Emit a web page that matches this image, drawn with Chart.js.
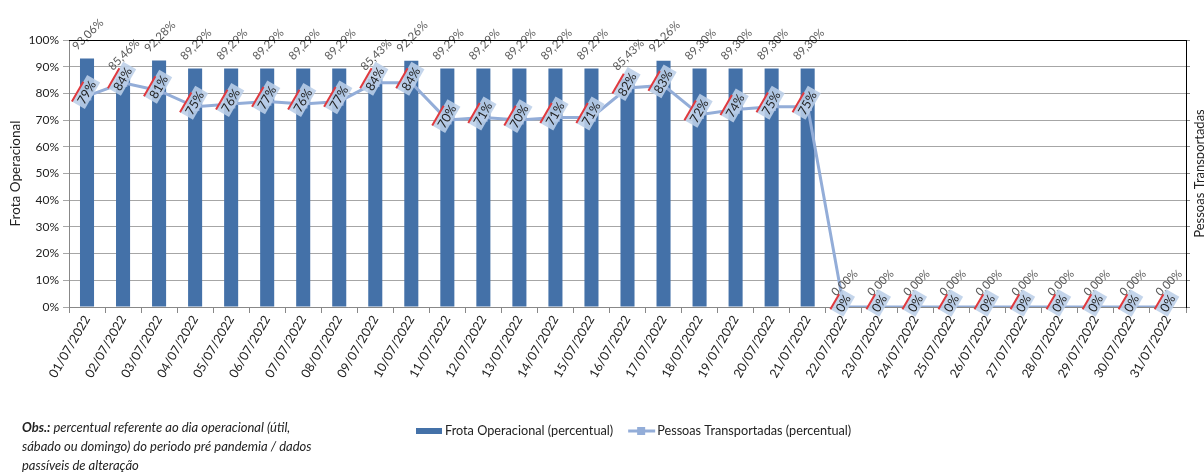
<!DOCTYPE html>
<html>
<head>
<meta charset="utf-8">
<script src="https://cdn.jsdelivr.net/npm/chart.js@4.4.1/dist/chart.umd.min.js"></script>
<style>
  body { margin: 0; background: #fff; }
  #wrap { position: relative; width: 1204px; height: 473px; }
  #obs {
    position: absolute; left: 22px; top: 418px; width: 340px;
    font-family: Lato, sans-serif; font-style: italic; font-size: 13px;
    line-height: 19px; color: #222; white-space: nowrap;
  }
</style>
</head>
<body>
<div id="wrap">
  <canvas id="myChart" width="1204" height="473"></canvas>
  <div id="obs"><b>Obs.:</b> percentual referente ao dia operacional (útil,<br>sábado ou domingo) do periodo pré pandemia / dados<br>passíveis de alteração</div>
</div>
<script>
// dias do mes
var dias = ['01/07/2022','02/07/2022','03/07/2022','04/07/2022','05/07/2022','06/07/2022','07/07/2022','08/07/2022',
  '09/07/2022','10/07/2022','11/07/2022','12/07/2022','13/07/2022','14/07/2022','15/07/2022','16/07/2022',
  '17/07/2022','18/07/2022','19/07/2022','20/07/2022','21/07/2022','22/07/2022','23/07/2022','24/07/2022',
  '25/07/2022','26/07/2022','27/07/2022','28/07/2022','29/07/2022','30/07/2022','31/07/2022'];

// frota operacional (%)
var frota = [93.06, 85.46, 92.28, 89.29, 89.29, 89.29, 89.29, 89.29, 85.43, 92.26, 89.29, 89.29, 89.29, 89.29, 89.29,
  85.43, 92.26, 89.30, 89.30, 89.30, 89.30, 0, 0, 0, 0, 0, 0, 0, 0, 0, 0];

// pessoas transportadas (%)
var pessoas = [79, 84, 81, 75, 76, 77, 76, 77, 84, 84, 70, 71, 70, 71, 71, 82, 83, 72, 74, 75, 75,
  0, 0, 0, 0, 0, 0, 0, 0, 0, 0];

var yTicks = [0, 10, 20, 30, 40, 50, 60, 70, 80, 90, 100];

var FONT = 'Lato, sans-serif';
var corBarra = '#4471A8';
var corLinha = '#93ADD8';

var rotulos = {
  id: 'rotulos',
  afterDatasetsDraw: function (chart) {
    var ctx = chart.ctx;
    // rotulos das barras
    var mb = chart.getDatasetMeta(0);
    ctx.save();
    ctx.font = '11.5px ' + FONT;
    ctx.fillStyle = '#595959';
    ctx.textAlign = 'center';
    ctx.textBaseline = 'middle';
    mb.data.forEach(function (el, i) {
      var txt = frota[i].toFixed(2).replace('.', ',') + '%';
      ctx.save();
      ctx.translate(el.x + 1, el.y - 24);
      ctx.rotate(-Math.PI / 4);
      ctx.fillText(txt, 0, 0);
      ctx.restore();
    });
    ctx.restore();

    // rotulos da linha
    var ml = chart.getDatasetMeta(1);
    ctx.save();
    ctx.font = '12.5px ' + FONT;
    ml.data.forEach(function (el, i) {
      var txt = Math.round(pessoas[i]) + '%';
      var w = ctx.measureText(txt).width + 6;
      var h = 15;
      ctx.save();
      ctx.translate(el.x - 1, el.y - 4);
      ctx.rotate(-Math.PI / 3);
      ctx.fillStyle = 'rgba(188,207,232,0.88)';
      ctx.fillRect(-w / 2, -h / 2, w, h);
      ctx.strokeStyle = '#E0393E';
      ctx.lineWidth = 2;
      ctx.beginPath();
      ctx.moveTo(-w / 2, -h / 2);
      ctx.lineTo(-w / 2 + w * 0.75, -h / 2);
      ctx.stroke();
      ctx.fillStyle = '#1F1F1F';
      ctx.textAlign = 'center';
      ctx.textBaseline = 'middle';
      ctx.fillText(txt, 0, 1);
      ctx.restore();
    });
    ctx.restore();
  },
  afterDraw: function (chart) {
    var ctx = chart.ctx;
    var a = chart.chartArea;
    ctx.save();
    // borda superior e direita
    ctx.strokeStyle = '#000';
    ctx.lineWidth = 1;
    ctx.beginPath();
    ctx.moveTo(a.left, a.top + 0.5);
    ctx.lineTo(a.right + 0.5, a.top + 0.5);
    ctx.lineTo(a.right + 0.5, a.bottom);
    ctx.stroke();

    // titulo eixo direito
    ctx.font = '13px ' + FONT;
    ctx.fillStyle = '#222';
    ctx.textAlign = 'center';
    ctx.textBaseline = 'middle';
    ctx.translate(1200, (a.top + a.bottom) / 2);
    ctx.rotate(-Math.PI / 2);
    ctx.fillText('Pessoas Transportadas', 0, 0);
    ctx.restore();

    // legenda
    ctx.save();
    ctx.font = '12.7px ' + FONT;
    ctx.fillStyle = '#222';
    ctx.textBaseline = 'middle';
    var ly = 431;
    ctx.fillStyle = corBarra;
    ctx.fillRect(416, ly - 3, 26, 6);
    ctx.fillStyle = '#222';
    ctx.fillText(chart.data.datasets[0].label, 445, ly);
    var x2 = 445 + ctx.measureText(chart.data.datasets[0].label).width + 15;
    ctx.strokeStyle = corLinha;
    ctx.lineWidth = 3;
    ctx.beginPath();
    ctx.moveTo(x2, ly);
    ctx.lineTo(x2 + 27, ly);
    ctx.stroke();
    ctx.fillStyle = corLinha;
    ctx.fillRect(x2 + 9, ly - 4, 8, 8);
    ctx.fillStyle = '#222';
    ctx.fillText(chart.data.datasets[1].label, x2 + 29, ly);
    ctx.restore();
  }
};

const ctx = document.getElementById('myChart').getContext('2d');
const myChart = new Chart(ctx, {
  type: 'bar',
  data: {
    labels: dias,
    datasets: [{
      type: 'bar',
      label: 'Frota Operacional (percentual)',
      data: frota,
      backgroundColor: corBarra,
      categoryPercentage: 1,
      barPercentage: 0.39,
      order: 2
    }, {
      type: 'line',
      label: 'Pessoas Transportadas (percentual)',
      data: pessoas,
      borderColor: corLinha,
      backgroundColor: corLinha,
      borderWidth: 3,
      pointStyle: 'rect',
      pointRadius: 4,
      tension: 0,
      fill: false,
      order: 1
    }]
  },
  options: {
    responsive: false,
    animation: false,
    layout: { padding: { top: 40, right: 0, left: 0, bottom: 0 } },
    plugins: { legend: { display: false }, tooltip: { enabled: false } },
    scales: {
      x: {
        grid: { display: true, drawOnChartArea: false, offset: true, tickLength: 6, color: '#888' },
        border: { color: '#888' },
        ticks: { minRotation: 60, maxRotation: 60, autoSkip: false, color: '#222', font: { family: FONT, size: 12.5 }, padding: 0 },
        afterFit: function (s) { s.height = 166; }
      },
      y: {
        min: 0, max: 100,
        afterBuildTicks: function (s) { s.ticks = yTicks.map(function (v) { return { value: v }; }); },
        ticks: { callback: function (v) { return v + '%'; }, color: '#222', font: { family: FONT, size: 12 }, padding: 4 },
        grid: { color: '#A6A6A6', tickLength: 6 },
        border: { color: '#888' },
        title: { display: true, text: 'Frota Operacional', color: '#222', font: { family: FONT, size: 13.5 }, padding: { top: 8, bottom: 0 } },
        afterFit: function (s) { s.width = 69; }
      },
      y2: {
        position: 'right',
        min: 0, max: 100,
        ticks: { display: false },
        grid: { drawOnChartArea: false, tickLength: 4, color: '#888' },
        border: { color: '#000' },
        afterFit: function (s) { s.width = 18; }
      }
    }
  },
  plugins: [rotulos]
});
</script>
</body>
</html>
